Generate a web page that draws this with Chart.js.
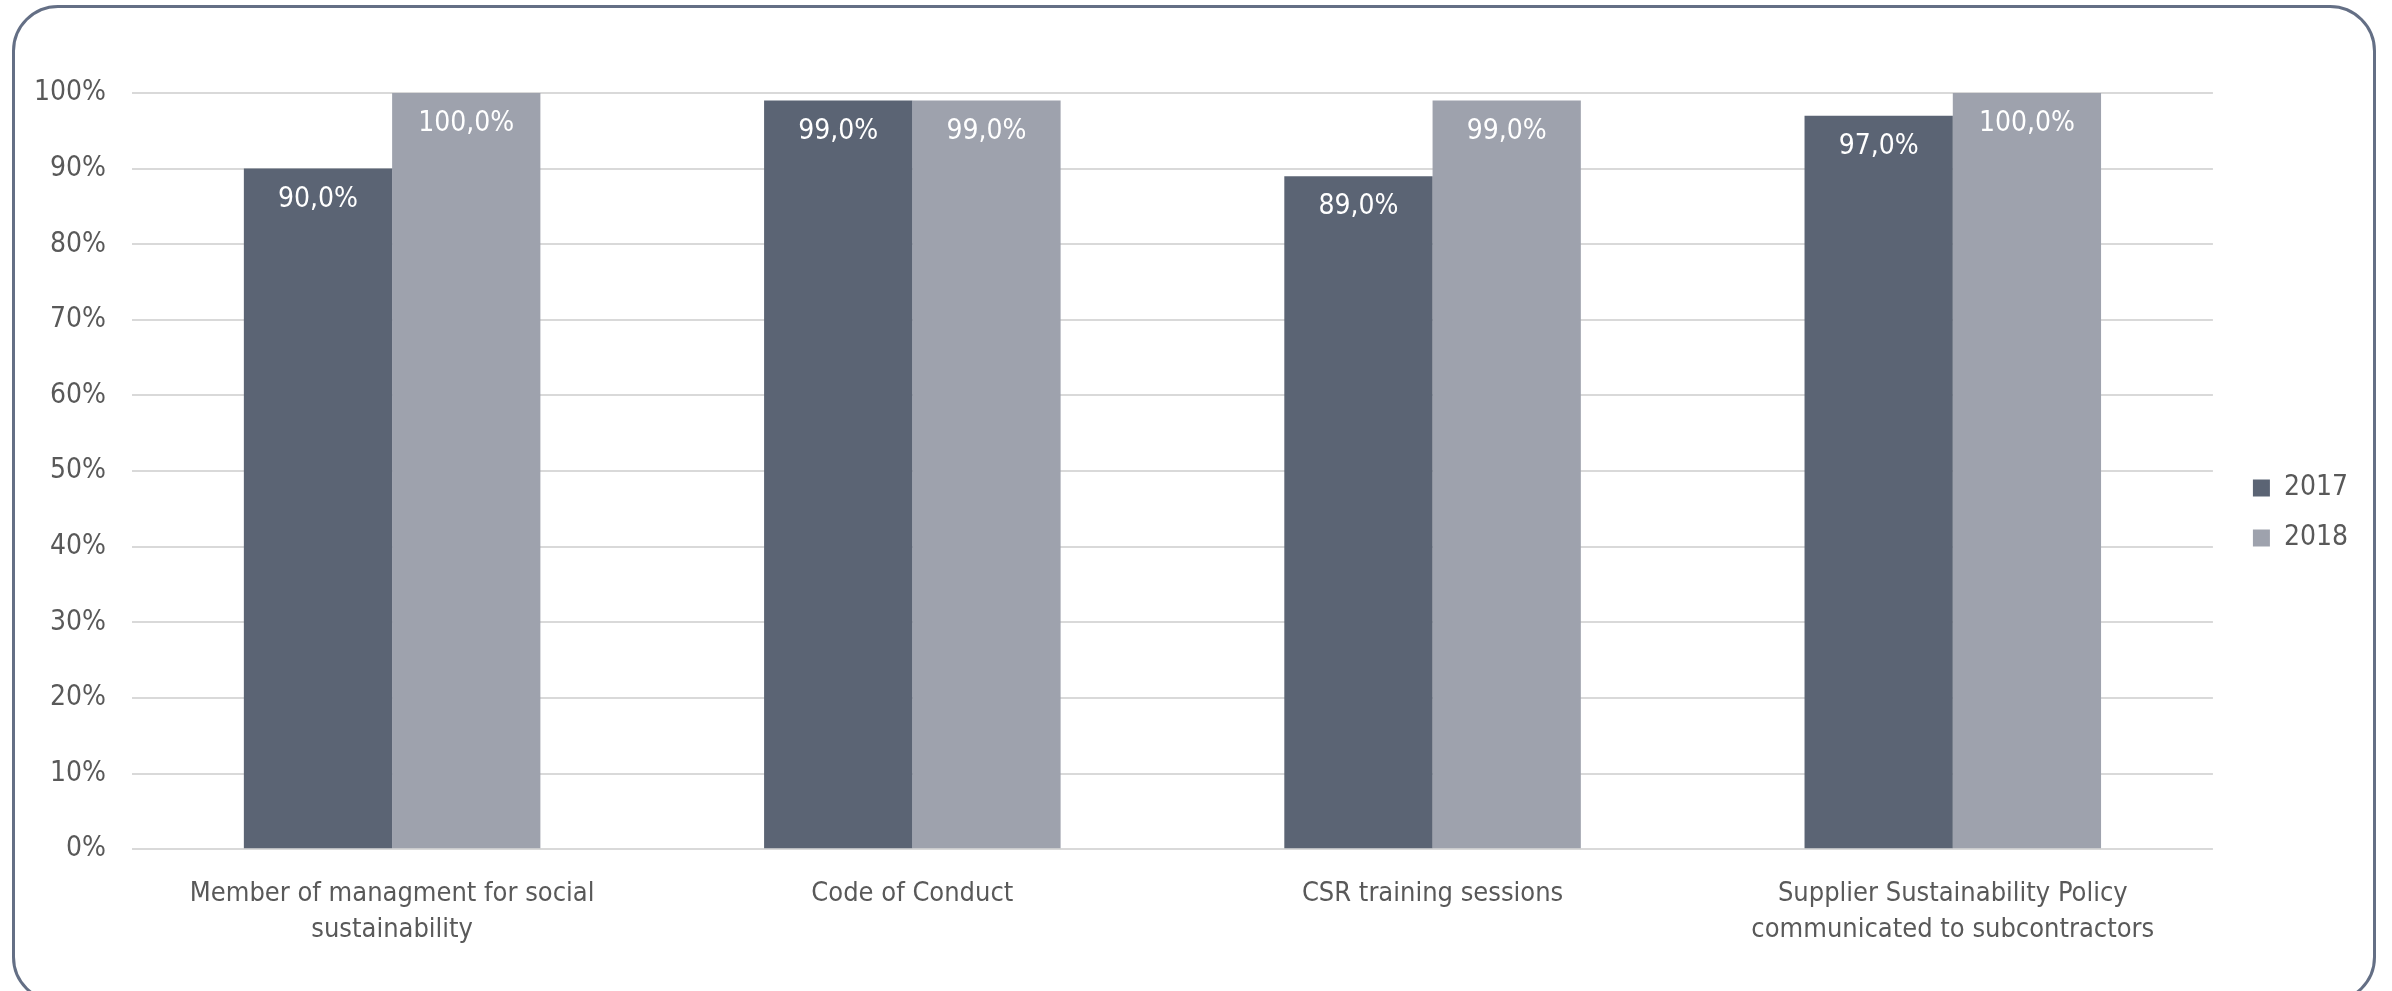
<!DOCTYPE html>
<html>
<head>
<meta charset="utf-8">
<script src="https://cdn.jsdelivr.net/npm/chart.js@4"></script>
<style>
  html, body { margin: 0; padding: 0; background: #fff; overflow: hidden; }
  #wrap { position: relative; width: 2392px; height: 991px; overflow: hidden; }
  #frame {
    position: absolute; left: 12px; top: 5px; width: 2364px; height: 998px;
    border: 3px solid #646f85; border-radius: 46px; box-sizing: border-box;
  }
  canvas { position: absolute; left: 0; top: 0; }
</style>
</head>
<body>
<div id="wrap">
  <div id="frame"></div>
  <canvas id="chart" width="2392" height="991"></canvas>
</div>
<script>
const categories = [
  ['Member of managment for social', 'sustainability'],
  'Code of Conduct',
  'CSR training sessions',
  ['Supplier Sustainability Policy', 'communicated to subcontractors']
];
const values2017 = [90, 99, 89, 97];
const values2018 = [100, 99, 99, 100];
const yTicks = [0, 10, 20, 30, 40, 50, 60, 70, 80, 90, 100];

const FONT = "'Liberation Sans Narrow', 'DejaVu Sans Condensed', 'Roboto', sans-serif";

// white value labels inside the top of each bar
const barLabels = {
  id: 'barLabels',
  afterDatasetsDraw(chart) {
    const ctx = chart.ctx;
    ctx.save();
    ctx.font = '28px ' + FONT;
    ctx.fillStyle = '#ffffff';
    ctx.textAlign = 'center';
    ctx.textBaseline = 'middle';
    chart.data.datasets.forEach((ds, i) => {
      chart.getDatasetMeta(i).data.forEach((bar, j) => {
        const txt = ds.data[j].toFixed(1).replace('.', ',') + '%';
        ctx.fillText(txt, bar.x, bar.y + 31);
      });
    });
    ctx.restore();
  }
};

// nudge the legend a bit right and up, like the original
const legendNudge = {
  id: 'legendNudge',
  afterLayout(chart) {
    const lg = chart.legend;
    lg.left += 18; lg.right += 18;
    lg.top -= 17; lg.bottom -= 17;
  }
};

new Chart(document.getElementById('chart'), {
  type: 'bar',
  data: {
    labels: categories,
    datasets: [
      { label: '2017', data: values2017, backgroundColor: '#5b6474' },
      { label: '2018', data: values2018, backgroundColor: '#9ea2ad' }
    ]
  },
  options: {
    responsive: false,
    animation: false,
    layout: { padding: { left: 8, right: 52, top: 93, bottom: 24 } },
    plugins: {
      legend: {
        position: 'right',
        labels: {
          boxWidth: 17, boxHeight: 17, padding: 22,
          color: '#595959', font: { family: FONT, size: 28 }
        }
      },
      tooltip: { enabled: false }
    },
    datasets: { bar: { categoryPercentage: 0.57, barPercentage: 1.0 } },
    scales: {
      x: {
        grid: { display: false },
        border: { display: false },
        ticks: {
          color: '#595959', padding: 19, maxRotation: 0,
          font: { family: FONT, size: 27, lineHeight: 1.33 }
        }
      },
      y: {
        min: 0, max: 100,
        afterBuildTicks(axis) { axis.ticks = yTicks.map(v => ({ value: v })); },
        grid: { color: '#d9d9d9', lineWidth: 2, drawTicks: false },
        border: { display: false },
        ticks: {
          color: '#595959', padding: 26,
          font: { family: FONT, size: 28 },
          callback: v => v + '%'
        }
      }
    }
  },
  plugins: [barLabels, legendNudge]
});
</script>
</body>
</html>
